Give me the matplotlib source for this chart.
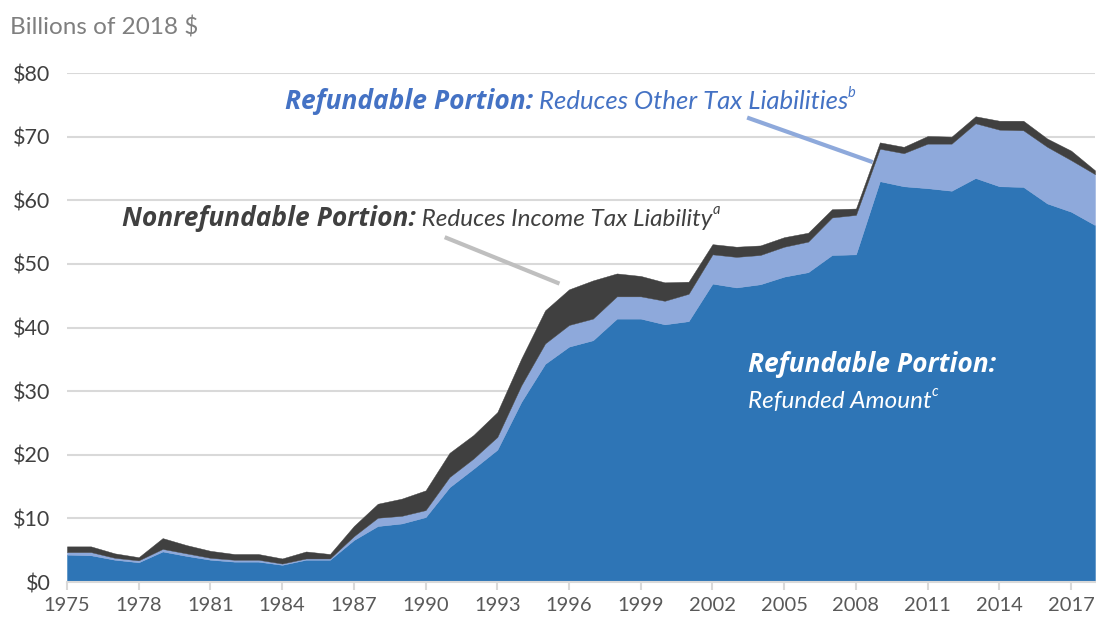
import matplotlib.pyplot as plt

plt.rcParams['font.family'] = ['Lato', 'DejaVu Sans']

years = list(range(1975, 2019))
# billions of 2018 dollars, stacked components
refunded = [4.3, 4.2, 3.5, 3.1, 4.8, 4.1, 3.5, 3.2, 3.2, 2.7, 3.5, 3.5, 6.6, 8.8,
            9.2, 10.2, 14.9, 17.8, 20.8, 28.3, 34.3, 37.0, 38.0, 41.4, 41.4, 40.5,
            41.0, 46.9, 46.3, 46.8, 48.0, 48.7, 51.4, 51.5, 63.0, 62.2, 61.9, 61.5,
            63.5, 62.2, 62.1, 59.5, 58.2, 56.1]
other_tax = [0.4, 0.5, 0.3, 0.3, 0.4, 0.4, 0.3, 0.3, 0.3, 0.2, 0.2, 0.2, 0.6, 1.3,
             1.2, 1.1, 1.6, 1.6, 2.0, 2.6, 3.2, 3.4, 3.4, 3.5, 3.5, 3.7, 4.3, 4.6,
             4.8, 4.6, 4.7, 4.8, 5.9, 6.2, 5.1, 5.2, 7.0, 7.4, 8.6, 8.9, 8.9, 8.9,
             8.1, 8.0]
nonrefundable = [0.9, 0.9, 0.7, 0.5, 1.7, 1.3, 1.1, 0.9, 0.9, 0.8, 1.1, 0.7, 1.6,
                 2.2, 2.7, 3.1, 3.8, 3.7, 3.9, 4.2, 5.2, 5.6, 6.0, 3.6, 3.2, 2.9,
                 1.9, 1.6, 1.6, 1.5, 1.5, 1.4, 1.3, 1.0, 1.0, 1.0, 1.2, 1.1, 1.1,
                 1.4, 1.5, 1.3, 1.5, 0.6]
y_ticks = [0, 10, 20, 30, 40, 50, 60, 70, 80]
x_ticks = list(range(1975, 2018, 3))

dark_blue = '#2E75B6'
light_blue = '#8EA9DB'
charcoal = '#404040'

fig = plt.figure(figsize=(10.96, 6.21), dpi=100)
ax = fig.add_axes([0.0611, 0.0628, 0.938, 0.8196])

colors = [dark_blue, light_blue, charcoal]
ax.stackplot(years, refunded, other_tax, nonrefundable, colors=colors,
             edgecolor='face', linewidth=0.3, zorder=2)

ax.set_xlim(1975, 2018)
ax.set_ylim(0, 80)
ax.set_yticks(y_ticks)
ax.set_yticklabels(['$' + str(v) for v in y_ticks])
ax.set_xticks(x_ticks)
ax.grid(axis='y', color='#D9D9D9', linewidth=1.5, zorder=0)
for s in ['top', 'right', 'left']:
    ax.spines[s].set_visible(False)
ax.spines['bottom'].set_color('#D9D9D9')
ax.spines['bottom'].set_linewidth(1.5)
ax.tick_params(axis='y', length=0, labelsize=15.5, labelcolor=charcoal, pad=12)
ax.tick_params(axis='x', length=6, width=1.5, color='#D9D9D9', labelsize=14.5,
               labelcolor='#595959', pad=5)

fig.text(0.009, 0.955, 'Billions of 2018 $', fontsize=17.5, color='#7F7F7F',
         va='center')

fig.canvas.draw()


def line_of_text(x, y, parts):
    # parts: (text, color, family, weight, size, raise in points)
    px, py = ax.transData.transform((x, y))
    for txt, col, fam, wt, sz, up in parts:
        pos = ax.transData.inverted().transform((px, py + up * fig.dpi / 72))
        t = ax.text(pos[0], pos[1], txt, color=col, family=fam, fontweight=wt,
                    fontsize=sz, style='italic', va='baseline', ha='left',
                    zorder=5)
        fig.canvas.draw()
        px = t.get_window_extent().x1


bold_font = ['Open Sans', 'DejaVu Sans']
reg_font = ['Lato', 'DejaVu Sans']

line_of_text(1984.1, 74.3, [
    ('Refundable Portion:', '#4472C4', bold_font, 'bold', 19, 0),
    (' Reduces Other Tax Liabilities', '#4472C4', reg_font, 'normal', 18.5, 0),
    ('b', '#4472C4', reg_font, 'normal', 10.5, 9),
])
line_of_text(1977.3, 55.9, [
    ('Nonrefundable Portion:', charcoal, bold_font, 'bold', 19, 0),
    (' Reduces Income Tax Liability', charcoal, reg_font, 'normal', 17.5, 0),
    ('a', charcoal, reg_font, 'normal', 10.5, 9),
])
line_of_text(2003.5, 33.0, [
    ('Refundable Portion:', 'white', bold_font, 'bold', 19, 0),
])
line_of_text(2003.5, 27.3, [
    ('Refunded Amount', 'white', reg_font, 'normal', 17.5, 0),
    ('c', 'white', reg_font, 'normal', 10.5, 9),
])

ax.plot([1990.8, 1995.6], [54.2, 46.9], color='#BFBFBF', linewidth=3,
        solid_capstyle='butt', zorder=4)
ax.plot([2003.45, 2008.7], [73.0, 66.0], color=light_blue, linewidth=3,
        solid_capstyle='butt', zorder=4, clip_on=False)

fig.savefig('out.png', dpi=100)
